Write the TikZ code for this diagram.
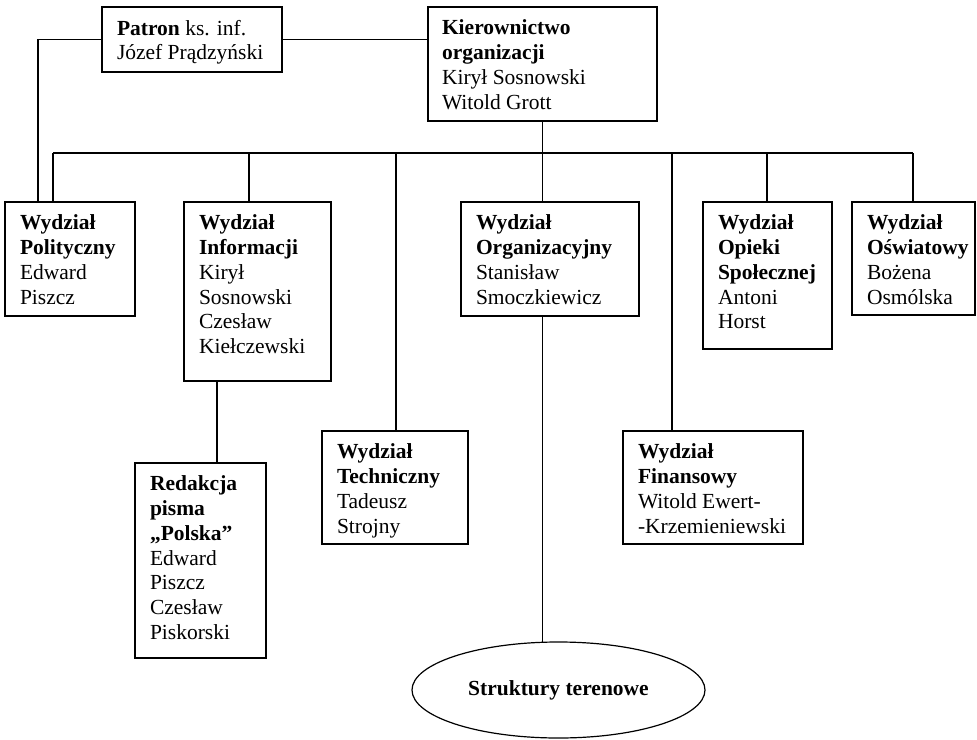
\documentclass[tikz,border=0pt]{standalone}
\usepackage{fontspec}
\setmainfont{Liberation Serif}
\usetikzlibrary{calc,shapes.geometric}
\begin{document}
\begin{tikzpicture}[x=1pt,y=-1pt,
  box/.style={draw,line width=1.2pt,inner sep=0pt,outer sep=0pt,rectangle},
  txt/.style={anchor=north west,inner sep=0pt,outer sep=0pt,align=left,font=\fontsize{21.5}{24.7}\selectfont},
  conn/.style={line width=1.2pt}]
\useasboundingbox (0,0) rectangle (977,739);
% boxes
\node[box,minimum width=180,minimum height=65] (patron) at (192,39.5) {};
\node[box,minimum width=229,minimum height=114] (kier) at (542.5,64) {};
\node[box,minimum width=130,minimum height=114] (pol) at (70,259) {};
\node[box,minimum width=147,minimum height=179] (inf) at (257.5,291.5) {};
\node[box,minimum width=178,minimum height=114] (org) at (550,259) {};
\node[box,minimum width=129,minimum height=147] (opi) at (767.5,275.5) {};
\node[box,minimum width=123,minimum height=113] (osw) at (913.5,258.5) {};
\node[box,minimum width=146,minimum height=113] (tech) at (395,487.5) {};
\node[box,minimum width=180,minimum height=113] (fin) at (713,487.5) {};
\node[box,minimum width=131,minimum height=195] (red) at (200.5,560.5) {};
\node[draw,line width=1.2pt,ellipse,inner sep=0pt,outer sep=0pt,minimum width=293,minimum height=96,font=\fontsize{21.5}{24.7}\selectfont\bfseries] (ell) at (558.5,690) {Struktury terenowe};
% texts
\node[txt] (patronT) at ($(patron.north west)+(15,13)$) {\textbf{Patron} ks. inf.\\Józef Prądzyński};
\node[txt] (kierT) at ($(kier.north west)+(14,13)$) {\textbf{Kierownictwo}\\\textbf{organizacji}\\Kirył Sosnowski\\Witold Grott};
\node[txt] (polT) at ($(pol.north west)+(15,13)$) {\textbf{Wydział}\\\textbf{Polityczny}\\Edward\\Piszcz};
\node[txt] (infT) at ($(inf.north west)+(15,13)$) {\textbf{Wydział}\\\textbf{Informacji}\\Kirył\\Sosnowski\\Czesław\\Kiełczewski};
\node[txt] (orgT) at ($(org.north west)+(15,13)$) {\textbf{Wydział}\\\textbf{Organizacyjny}\\Stanisław\\Smoczkiewicz};
\node[txt] (opiT) at ($(opi.north west)+(15,13)$) {\textbf{Wydział}\\\textbf{Opieki}\\\textbf{Społecznej}\\Antoni\\Horst};
\node[txt] (oswT) at ($(osw.north west)+(15,13)$) {\textbf{Wydział}\\\textbf{Oświatowy}\\Bożena\\Osmólska};
\node[txt] (techT) at ($(tech.north west)+(15,13)$) {\textbf{Wydział}\\\textbf{Techniczny}\\Tadeusz\\Strojny};
\node[txt] (finT) at ($(fin.north west)+(15,13)$) {\textbf{Wydział}\\\textbf{Finansowy}\\Witold Ewert-\\-Krzemieniewski};
\node[txt] (redT) at ($(red.north west)+(15,13)$) {\textbf{Redakcja}\\\textbf{pisma}\\\textbf{„Polska”}\\Edward\\Piszcz\\Czesław\\Piskorski};
% bus coordinates
\coordinate (bPol) at (53,153);
\coordinate (bInf) at (249,153);
\coordinate (bTech) at (396,153);
\coordinate (bFin) at (672,153);
\coordinate (bOpi) at (767,153);
\coordinate (bOsw) at (913,153);
\coordinate (pTurn) at (38,200);
% connectors
\draw[conn] (patron.west) -| (pTurn |- pol.north);
\draw[conn] (patron.east) -- (patron.east -| kier.west);
\draw[conn] (bPol) -- (bOsw);
\draw[conn] (kier.south) -- (kier.south |- org.north);
\draw[conn] (bPol) -- (bPol |- pol.north);
\draw[conn] (bInf) -- (bInf |- inf.north);
\draw[conn] (bTech) -- (bTech |- tech.north);
\draw[conn] (bFin) -- (bFin |- fin.north);
\draw[conn] (bOpi) -- (bOpi |- opi.north);
\draw[conn] (bOsw) -- (bOsw |- osw.north);
\coordinate (infDrop) at ($(inf.south west)+(33,0)$);
\draw[conn] (infDrop) -- (infDrop |- red.north);
\coordinate (orgDrop) at (org.south -| kier.south);
\draw[conn] (orgDrop) -- (orgDrop |- ell.north);
\end{tikzpicture}
\end{document}
